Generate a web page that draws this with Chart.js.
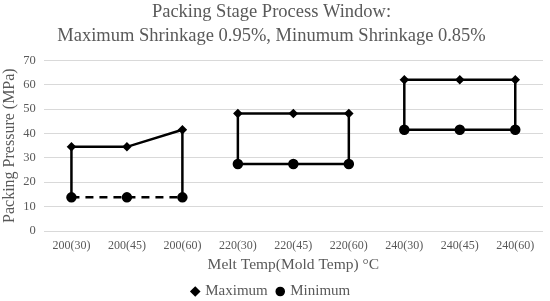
<!DOCTYPE html>
<html>
<head>
<meta charset="utf-8">
<script src="https://cdn.jsdelivr.net/npm/chart.js@4"></script>
<style>
  body { margin: 0; background: #fff; }
  #wrap { width: 550px; height: 301px; }
</style>
</head>
<body>
<div id="wrap"><canvas id="chart"></canvas></div>
<script>
const categories = ['200(30)', '200(45)', '200(60)', '220(30)', '220(45)', '220(60)', '240(30)', '240(45)', '240(60)'];
const maximum = [34.5, 34.5, 41.5, 48.2, 48.2, 48.2, 62, 62, 62];
const minimum = [13.8, 13.8, 13.8, 27.5, 27.5, 27.5, 41.5, 41.5, 41.5];
const yTicks = [0, 10, 20, 30, 40, 50, 60, 70];
// group end points joined by vertical lines
const groupEdges = [0, 2, 3, 5, 6, 8];
// segments that start at these indexes bridge two groups and are not drawn
const groupBreaks = [2, 5];

const fontFamily = '"Liberation Serif", "Times New Roman", serif';
const grey = '#595959';

const edgeSets = groupEdges.map(i => ({
    label: 'edge',
    data: [{ x: categories[i], y: maximum[i] }, { x: categories[i], y: minimum[i] }],
    borderColor: '#000',
    borderWidth: 2.5,
    pointRadius: 0,
    pointHoverRadius: 0
}));

const ctx = document.getElementById('chart').getContext('2d');
new Chart(ctx, {
    type: 'line',
    data: {
        labels: categories,
        datasets: [{
            label: 'Maximum',
            data: maximum,
            borderColor: '#000',
            backgroundColor: '#000',
            borderWidth: 2.5,
            pointStyle: 'rectRot',
            pointRadius: 3,
            segment: {
                borderColor: c => groupBreaks.includes(c.p0DataIndex) ? 'transparent' : '#000'
            }
        }, {
            label: 'Minimum',
            data: minimum,
            borderColor: '#000',
            backgroundColor: '#000',
            borderWidth: 2.5,
            pointStyle: 'circle',
            pointRadius: 4,
            segment: {
                borderColor: c => groupBreaks.includes(c.p0DataIndex) ? 'transparent' : '#000',
                borderDash: c => c.p0DataIndex < 2 ? [8, 6] : []
            }
        }, ...edgeSets]
    },
    options: {
        responsive: true,
        maintainAspectRatio: false,
        animation: false,
        layout: { padding: { left: 0, right: 7, top: 0, bottom: -8 } },
        plugins: {
            title: {
                display: true,
                text: ['Packing Stage Process Window:', 'Maximum Shrinkage 0.95%, Minumum Shrinkage 0.85%'],
                color: grey,
                font: { family: fontFamily, size: 18.5, weight: 'normal', lineHeight: 1.25 },
                padding: { top: 1, bottom: 13 }
            },
            legend: {
                position: 'bottom',
                labels: {
                    usePointStyle: true,
                    boxWidth: 5,
                    boxHeight: 5,
                    color: grey,
                    font: { family: fontFamily, size: 15 },
                    padding: 10,
                    filter: item => item.text !== 'edge'
                }
            },
            tooltip: { enabled: false }
        },
        scales: {
            x: {
                type: 'category',
                offset: true,
                grid: { display: false, drawTicks: false },
                border: { display: false },
                ticks: { color: grey, font: { family: fontFamily, size: 12 }, maxRotation: 0, padding: 8 },
                title: {
                    display: true,
                    text: 'Melt Temp(Mold Temp) °C',
                    color: grey,
                    font: { family: fontFamily, size: 15.5 },
                    padding: { top: -6, bottom: 0 }
                }
            },
            y: {
                min: 0,
                max: 70,
                afterBuildTicks: axis => { axis.ticks = yTicks.map(v => ({ value: v })); },
                grid: { color: '#d9d9d9', drawTicks: false },
                border: { display: false },
                ticks: { color: grey, font: { family: fontFamily, size: 12.5 }, padding: 8 },
                title: {
                    display: true,
                    text: 'Packing Pressure (MPa)',
                    color: grey,
                    font: { family: fontFamily, size: 16 },
                    padding: { top: 0, bottom: -4 }
                }
            }
        }
    }
});
</script>
</body>
</html>
